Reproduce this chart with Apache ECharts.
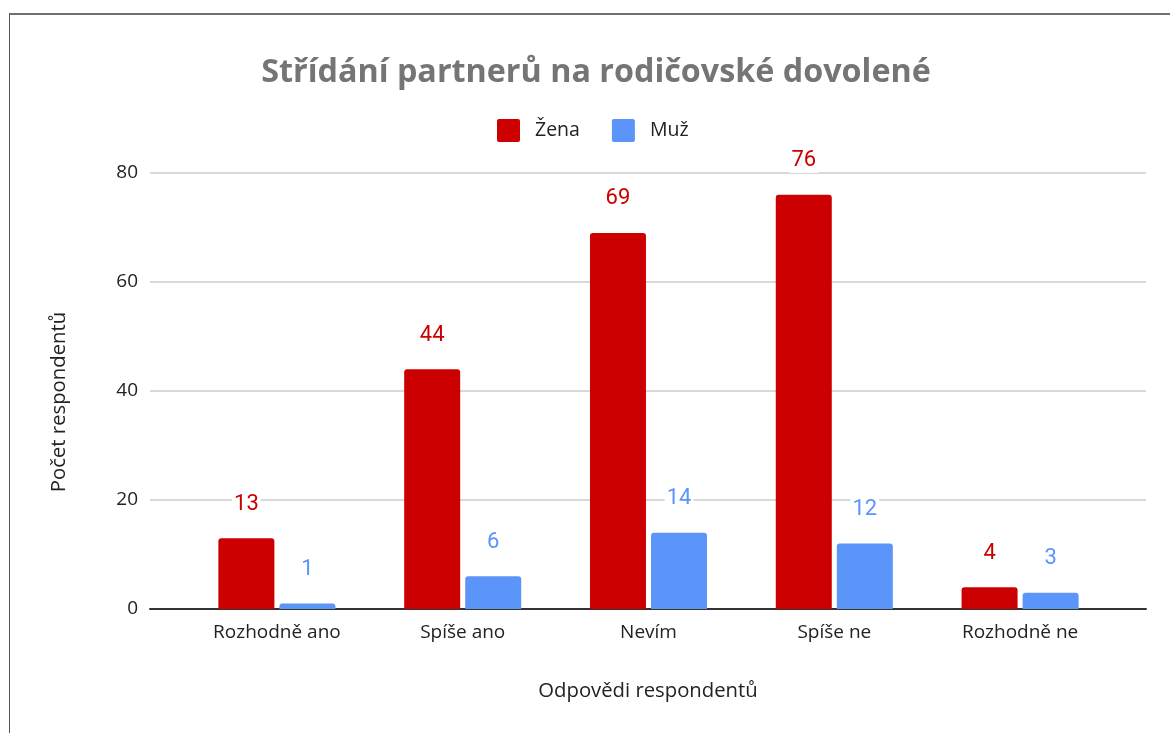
<!DOCTYPE html>
<html>
<head>
<meta charset="utf-8">
<script src="https://cdn.jsdelivr.net/npm/echarts@6/dist/echarts.min.js"></script>
<style>
    html, body { margin: 0; padding: 0; background: #fff; }
    #frame {
        position: absolute;
        left: 9px;
        top: 13px;
        width: 1170px;
        height: 740px;
        border-top: 2px solid #707070;
        border-left: 1px solid #555;
    }
    #chart { position: absolute; left: 0; top: 0; width: 1170px; height: 733px; }
</style>
</head>
<body>
<div id="frame"></div>
<div id="chart"></div>
<script>
// data
const categories = ["Rozhodně ano", "Spíše ano", "Nevím", "Spíše ne", "Rozhodně ne"];
const zena = [13, 44, 69, 76, 4];
const muz = [1, 6, 14, 12, 3];
const yTicks = [0, 20, 40, 60, 80];

const textFont = "'Open Sans', 'Noto Sans', sans-serif";
const red = "#cc0000";
const blue = "#5b95f9";
// small rounded square for legend
const legendIcon = "path://M2,0 H21 Q23,0 23,2 V21 Q23,23 21,23 H2 Q0,23 0,21 V2 Q0,0 2,0 Z";

const chart = echarts.init(document.getElementById("chart"));

function barLabel(color) {
    return {
        show: true,
        position: "top",
        distance: 22,
        color: color,
        fontFamily: "Roboto, sans-serif",
        fontSize: 22,
        lineHeight: 24,
        backgroundColor: "#fff",
        padding: [0, 2],
    };
}

const option = {
    animation: false,
    title: {
        text: "Střídání partnerů na rodičovské dovolené",
        left: 591,
        top: 52,
        textAlign: "center",
        textStyle: {
            fontFamily: textFont,
            fontSize: 32.3,
            fontWeight: "bold",
            color: "#757575",
        },
    },
    legend: {
        left: 492,
        top: 114,
        icon: legendIcon,
        itemWidth: 23,
        itemHeight: 23,
        itemGap: 32,
        textStyle: {
            fontFamily: textFont,
            fontSize: 19.5,
            color: "#222",
            padding: [0, 0, 0, 10],
        },
        data: ["Žena", "Muž"],
    },
    //网格: 0 = gridlines/axis names, 1 = bars
    grid: [
        { left: 150, right: 24, top: 173, bottom: 124 },
        { left: 184, right: 57, top: 173, bottom: 124 },
    ],
    xAxis: [
        {
            gridIndex: 0,
            type: "category",
            data: [""],
            axisTick: { show: false },
            axisLabel: { show: false },
            axisLine: { lineStyle: { color: "#333", width: 2 } },
            name: "Odpovědi respondentů",
            nameLocation: "middle",
            nameGap: 72,
            nameTextStyle: { fontFamily: textFont, fontSize: 20.3, color: "#222" },
        },
        {
            gridIndex: 1,
            type: "category",
            data: categories,
            axisTick: { show: false },
            axisLine: { show: false },
            axisLabel: {
                margin: 14,
                fontFamily: textFont,
                fontSize: 19,
                color: "#222",
            },
        },
    ],
    yAxis: [
        {
            gridIndex: 0,
            type: "value",
            min: yTicks[0],
            max: yTicks[yTicks.length - 1],
            interval: yTicks[1] - yTicks[0],
            axisLine: { show: false },
            axisTick: { show: false },
            axisLabel: {
                margin: 12,
                fontFamily: textFont,
                fontSize: 19,
                color: "#222",
            },
            splitLine: { lineStyle: { color: "#cccccc", width: 1.5 } },
            name: "Počet respondentů",
            nameLocation: "middle",
            nameRotate: 90,
            nameGap: 81,
            nameTextStyle: {
                fontFamily: textFont,
                fontSize: 20.3,
                color: "#222",
                padding: [0, 22, 0, 0],
            },
        },
        {
            gridIndex: 1,
            type: "value",
            min: yTicks[0],
            max: yTicks[yTicks.length - 1],
            show: false,
            splitLine: { show: false },
        },
    ],
    series: [
        {
            name: "Žena",
            type: "bar",
            xAxisIndex: 1,
            yAxisIndex: 1,
            barWidth: 56,
            barGap: "9%",
            data: zena,
            itemStyle: { color: red, borderRadius: [3, 3, 0, 0] },
            label: barLabel(red),
        },
        {
            name: "Muž",
            type: "bar",
            xAxisIndex: 1,
            yAxisIndex: 1,
            barWidth: 56,
            barGap: "9%",
            data: muz,
            itemStyle: { color: blue, borderRadius: [3, 3, 0, 0] },
            label: barLabel(blue),
        },
    ],
};

chart.setOption(option);
</script>
</body>
</html>
